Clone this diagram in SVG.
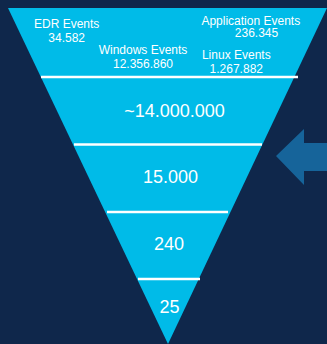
<svg xmlns="http://www.w3.org/2000/svg" width="327" height="344" viewBox="0 0 327 344">
<style>
.t{font-family:"Liberation Sans",Arial,sans-serif;fill:#ffffff;text-anchor:middle}
.s{font-size:12px}
.b{font-size:18px}
.sep{stroke:#ffffff;stroke-width:2.5;fill:none}
</style>
<rect width="327" height="344" fill="#0f274b"/>
<g id="funnel">
<polygon points="8,8 327,8 168,344" fill="#00bbe8"/>
</g>
<g id="sources">
<text class="t s" x="66.7" y="28">EDR Events</text>
<text class="t s" x="66.7" y="42">34.582</text>
<text class="t s" x="250.8" y="24.7">Application Events</text>
<text class="t s" x="256.5" y="37.3">236.345</text>
<text class="t s" x="143" y="54">Windows Events</text>
<text class="t s" x="143" y="68">12.356.860</text>
<text class="t s" x="236.3" y="58.7">Linux Events</text>
<text class="t s" x="236.3" y="72.7">1.267.882</text>
</g>
<g id="stage1"><text class="t b" x="174.5" y="117">~14.000.000</text></g>
<g id="stage2"><text class="t b" x="170.5" y="183">15.000</text></g>
<g id="stage3"><text class="t b" x="169" y="250">240</text></g>
<g id="stage4"><text class="t b" x="169.5" y="313">25</text></g>
<g id="connectors">
<line class="sep" x1="41" y1="77" x2="298" y2="77"/>
<line class="sep" x1="74" y1="144.5" x2="262" y2="144.5"/>
<line class="sep" x1="107" y1="212" x2="228" y2="212"/>
<line class="sep" x1="138" y1="279" x2="200" y2="279"/>
<polygon points="276,156 304,129 304,143 327,143 327,171 304,171 304,185" fill="#16649a"/>
</g>
</svg>
